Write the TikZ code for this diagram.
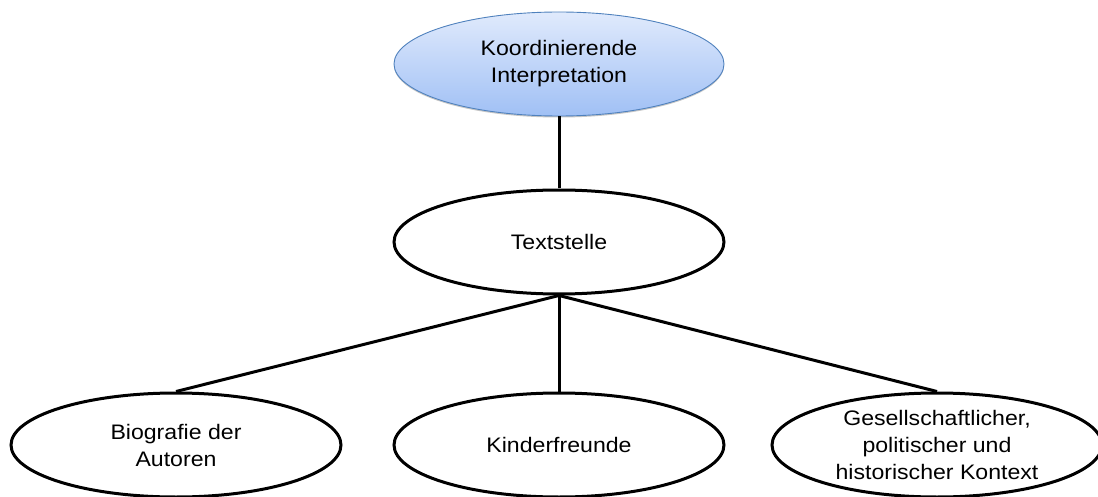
\documentclass[tikz,border=0pt]{standalone}
\usepackage{fontspec}
\setmainfont{Liberation Sans}[FakeStretch=1.1]
\usetikzlibrary{shapes.geometric,shadows}
\definecolor{topc}{RGB}{224,234,252}
\definecolor{botc}{RGB}{160,192,245}
\definecolor{edgeblue}{RGB}{79,129,189}
\begin{document}
\begin{tikzpicture}[x=1pt,y=-1pt,
  oval/.style={ellipse,draw=black,line width=3pt,fill=white,
    minimum width=330pt,minimum height=104pt,inner sep=0pt,align=center,
    font={\fontsize{21}{27}\selectfont}},
  topoval/.style={oval,draw=edgeblue,line width=0.9pt,top color=topc,bottom color=botc,
    drop shadow={shadow xshift=0pt,shadow yshift=-1.5pt,opacity=0.45,fill=gray}},
  link/.style={line width=3pt,draw=black}]
\useasboundingbox (0,0) rectangle (1098,497);
\node[topoval] (top) at (559,64) {Koordinierende\\Interpretation};
\node[oval] (text) at (559,242) {Textstelle};
\node[oval] (bio) at (176,445) {Biografie der\\Autoren};
\node[oval] (kind) at (559,445) {Kinderfreunde};
\node[oval] (ges) at (937,445) {Gesellschaftlicher,\\politischer und\\historischer Kontext};
\draw[link] (top.south) -- (text.north);
\draw[link] (text.south) -- (bio.north);
\draw[link] (text.south) -- (kind.north);
\draw[link] (text.south) -- (ges.north);
\end{tikzpicture}
\end{document}
